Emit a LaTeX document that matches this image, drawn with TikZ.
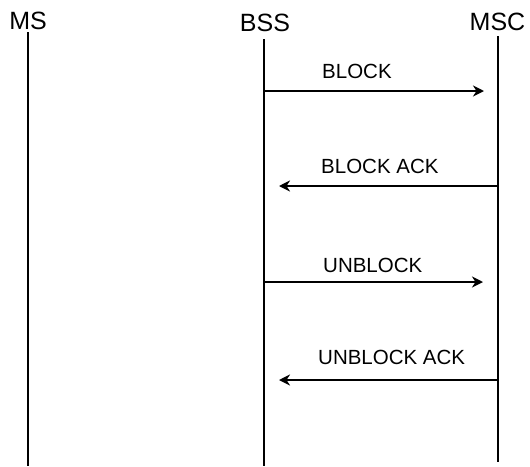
\documentclass[tikz,border=0pt]{standalone}
\usepackage{fontspec}
\setmainfont{Liberation Sans}
\usetikzlibrary{arrows.meta}
\begin{document}
\begin{tikzpicture}[x=1pt,y=-1pt,
  head/.style={font=\fontsize{25}{30}\selectfont, anchor=base, inner sep=0pt},
  msglabel/.style={font=\fontsize{20.5}{24}\selectfont, anchor=base west, inner sep=0pt},
  life/.style={line width=2pt},
  msg/.style={line width=2pt, -{Stealth[length=11pt,width=11pt,inset=3.5pt]}}]
\useasboundingbox (0,0) rectangle (530,466);
% headers
\node[head] (ms) at (28,29.5) {MS};
\node[head] (bss) at (265,31) {BSS};
\node[head] (msc) at (497.5,30) {MSC};
% lifelines
\coordinate (msT) at (28,32);   \coordinate (msB) at (28,466);
\coordinate (bssT) at (264,39); \coordinate (bssB) at (264,466);
\coordinate (mscT) at (498,36); \coordinate (mscB) at (498,462);
\draw[life] (msT) -- (msB);
\draw[life] (bssT) -- (bssB);
\draw[life] (mscT) -- (mscB);
% message endpoints
\coordinate (a1) at (264,91);  \coordinate (b1) at (484,91);
\coordinate (a2) at (498,186); \coordinate (b2) at (279,186);
\coordinate (a3) at (264,282); \coordinate (b3) at (483,282);
\coordinate (a4) at (498,380); \coordinate (b4) at (279,380);
\draw[msg] (a1) -- (b1);
\draw[msg] (a2) -- (b2);
\draw[msg] (a3) -- (b3);
\draw[msg] (a4) -- (b4);
% labels
\node[msglabel] (l1) at (322,78) {BLOCK};
\node[msglabel] (l2) at (321,173) {BLOCK ACK};
\node[msglabel] (l3) at (323,272) {UNBLOCK};
\node[msglabel] (l4) at (318,364) {UNBLOCK ACK};
\end{tikzpicture}
\end{document}
